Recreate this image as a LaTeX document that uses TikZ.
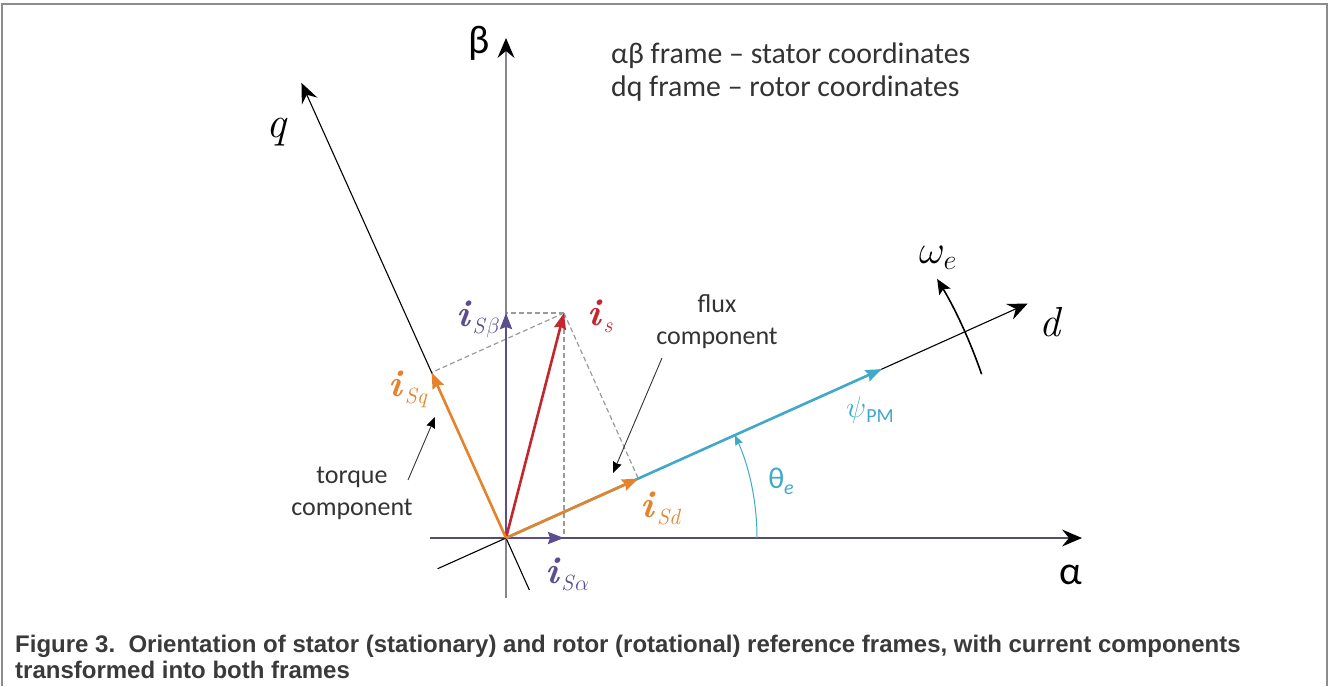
\RequirePackage{fix-cm}
\documentclass[tikz,border=0pt]{standalone}
\usepackage{fontspec}
\newfontfamily\calfont{Carlito}
\newfontfamily\capfont{Liberation Sans}
\usetikzlibrary{arrows.meta,calc}
\definecolor{cred}{HTML}{C1272D}
\definecolor{corange}{HTML}{E6822A}
\definecolor{cpurple}{HTML}{5C4D8F}
\definecolor{ccyan}{HTML}{3FA9C9}
\definecolor{caxisa}{HTML}{505068}
\definecolor{caxisb}{HTML}{85858F}
\definecolor{cframe}{HTML}{8C8C8C}
\definecolor{ccap}{HTML}{3A3A3A}
\definecolor{ctext}{HTML}{333333}
\definecolor{cdash}{HTML}{9A9A9A}
\newcommand\fsz[1]{\fontsize{#1}{#1}\selectfont}
\newcommand\ivec[1]{{\fsz{38}\textbf{\textit{i}}}\kern1pt\raisebox{-7pt}{\fsz{22}#1}}
\tikzset{
  axisline/.style={line width=1.3pt,-{Stealth[length=20pt,width=17pt,inset=7pt,black]}},
  vecline/.style={line width=2.6pt,-{Stealth[length=16pt,width=12pt,inset=2pt]}},
  dashline/.style={cdash,line width=1.2pt,dash pattern=on 5pt off 3pt},
  pointer/.style={ctext,line width=0.9pt,-{Stealth[length=11pt,width=9pt,inset=1pt,black]}},
  lbl/.style={inner sep=0pt},
  note/.style={inner sep=0pt,ctext,align=center,font=\calfont\fontsize{26}{32}\selectfont},
}
\begin{document}
\begin{tikzpicture}[x=1pt,y=1pt]
\useasboundingbox (0,0) rectangle (1330,686);
\draw[cframe,line width=1.2pt] (2,0) -- (2,682) -- (1327,682) -- (1327,0);

\coordinate (O) at (506,148);
\coordinate (Aa) at (430,148);
\coordinate (Ab) at (1082,148);
\coordinate (Ba) at (506,88);
\coordinate (Bb) at (506,648);
\coordinate (Da) at ($(O)+(204.2:75)$);
\coordinate (Db) at ($(O)+(24.2:572)$);
\coordinate (Qa) at ($(O)+(294.2:57)$);
\coordinate (Qb) at ($(O)+(114.2:499)$);
\coordinate (S) at (564,373);
\coordinate (Sb) at (506,373);
\coordinate (Sa) at (564,148);
\coordinate (Sd) at ($(O)+(24.2:145)$);
\coordinate (Sq) at ($(O)+(114.2:181.5)$);
\coordinate (P) at ($(O)+(24.2:412)$);

% projection lines
\draw[dashline] (S) -- (Sb);
\draw[dashline] (S) -- (Sa);
\draw[dashline] (S) -- (Sd);
\draw[dashline] (S) -- (Sq);

% axes
\draw[axisline,caxisb] (Ba) -- (Bb);
\draw[axisline,caxisa] (Aa) -- (Ab);
\draw[axisline,black,line width=1.1pt] (Da) -- (Db);
\draw[axisline,black,line width=1.1pt] (Qa) -- (Qb);

% vectors
\draw[vecline,ccyan] (O) -- (P);
\draw[vecline,cpurple] (O) -- (Sb);
\draw[vecline,cpurple] (O) -- (Sa);
\draw[vecline,cred] (O) -- (S);
\draw[vecline,corange] (O) -- (Sq);
\draw[vecline,corange] (O) -- (Sd);

% angles
\draw[ccyan,line width=1pt,-{Stealth[length=10pt,width=8pt,inset=1pt]}] ($(O)+(251,0)$) arc[start angle=0,end angle=24.2,radius=251];
\draw[black,line width=1.6pt,-{Stealth[length=15pt,width=13pt,inset=3pt]}] ($(O)+(19:503)$) arc[start angle=19,end angle=31,radius=503];

% axis labels
\node[lbl] (lbeta) at (479,643) {\calfont\fsz{40}β};
\node[lbl] (lalpha) at (1071,111) {\calfont\fsz{40}α};
\node[lbl] (lq) at (277,554) {\fsz{44}\textit{q}};
\node[lbl] (ld) at (1051,364) {\fsz{42}\textit{d}};
\node[lbl] (lomega) at (938,428) {\fsz{40}$\omega_e$};

% legend
\node[lbl,anchor=west,ctext] (leg1) at (611,630) {\calfont\fsz{29.8}αβ frame – stator coordinates};
\node[lbl,anchor=west,ctext] (leg2) at (611,597) {\calfont\fsz{29.8}dq frame – rotor coordinates};

% vector labels
\node[lbl,cred] (lis) at (600,370) {\ivec{\textit{s}}};
\node[lbl,cpurple] (lisb) at (478,367) {\ivec{\textit{S}$\beta$}};
\node[lbl,cpurple] (lisa) at (567,112) {\ivec{\textit{S}$\alpha$}};
\node[lbl,corange] (lisq) at (408,297) {\ivec{\textit{Sq}}};
\node[lbl,corange] (lisd) at (661,178) {\ivec{\textit{Sd}}};
\node[lbl,ccyan] (lpsi) at (870,276) {\fsz{30}$\psi$\raisebox{-5pt}{\calfont\fsz{20}PM}};
\node[lbl,ccyan] (ltheta) at (781,205) {\calfont\fsz{30}θ\raisebox{-6pt}{\fsz{20}\textit{e}}};

% component notes
\node[note] (flux) at (717,364) {flux\\component};
\node[note] (torque) at (352,193) {torque\\component};
\coordinate (fa) at (662,328);
\coordinate (fb) at (613,213);
\coordinate (ta) at (408,206);
\coordinate (tb) at (435,269);
\draw[pointer] (fa) -- (fb);
\draw[pointer] (ta) -- (tb);

% caption
\node[lbl,anchor=base west,ccap] (cap1) at (15,34) {\capfont\bfseries\fsz{24}Figure 3.\ \ Orientation of stator (stationary) and rotor (rotational) reference frames, with current components};
\node[lbl,anchor=base west,ccap] (cap2) at (15,8) {\capfont\bfseries\fsz{24}transformed into both frames};
\end{tikzpicture}
\end{document}
